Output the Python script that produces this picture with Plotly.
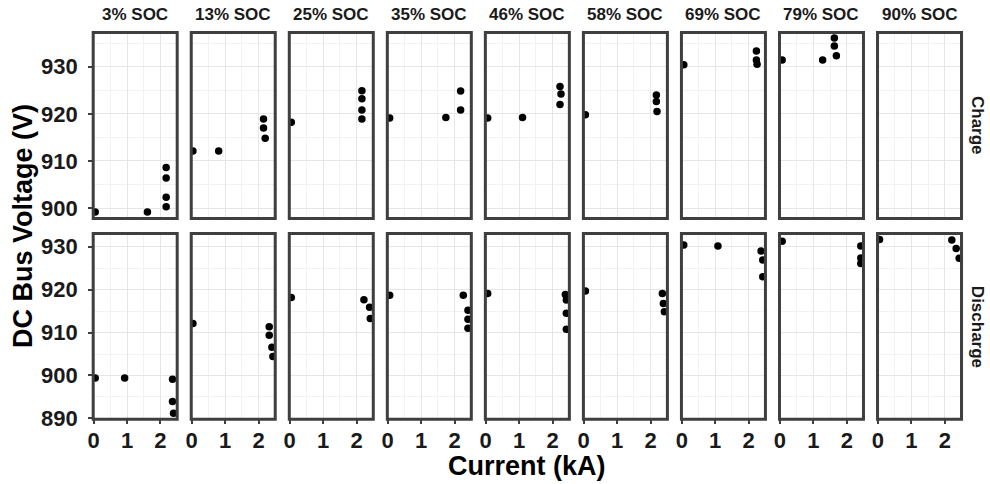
import plotly.graph_objects as go
from plotly.subplots import make_subplots

soc_labels = ["3% SOC", "13% SOC", "25% SOC", "35% SOC", "46% SOC",
              "58% SOC", "69% SOC", "79% SOC", "90% SOC"]
modes = ["Charge", "Discharge"]

# current (kA) and voltage (V) per SOC column
charge_current = [
    [0.05, 1.61, 2.17, 2.17, 2.17, 2.17],
    [0.04, 0.81, 2.15, 2.15, 2.20],
    [0.05, 2.16, 2.16, 2.16, 2.16],
    [0.06, 1.74, 2.18, 2.18],
    [0.06, 1.10, 2.22, 2.25, 2.22],
    [0.05, 2.17, 2.17, 2.19],
    [0.06, 2.23, 2.23, 2.25],
    [0.07, 1.28, 1.63, 1.63, 1.69],
    [],
]
charge_voltage = [
    [899.2, 899.2, 908.6, 906.4, 902.3, 900.3],
    [912.1, 912.1, 918.9, 917.0, 914.8],
    [918.2, 924.9, 923.2, 920.8, 918.9],
    [919.1, 919.2, 924.85, 920.8],
    [919.1, 919.2, 925.8, 924.2, 922.0],
    [919.8, 924.0, 922.6, 920.5],
    [930.4, 933.3, 931.4, 930.5],
    [931.4, 931.4, 936.1, 934.4, 932.3],
    [],
]
discharge_current = [
    [0.05, 0.93, 2.36, 2.36, 2.39],
    [0.04, 2.32, 2.32, 2.40, 2.43],
    [0.05, 2.22, 2.39, 2.41],
    [0.06, 2.26, 2.40, 2.40, 2.40],
    [0.06, 2.38, 2.41, 2.41, 2.41],
    [0.05, 2.35, 2.38, 2.41],
    [0.06, 1.08, 2.37, 2.42, 2.42],
    [0.07, 2.42, 2.42, 2.42],
    [0.05, 2.21, 2.34, 2.43],
]
discharge_voltage = [
    [899.4, 899.4, 899.1, 893.9, 891.2],
    [912.1, 911.35, 909.35, 906.55, 904.4],
    [918.2, 917.65, 915.9, 913.3],
    [918.7, 918.7, 915.2, 913.1, 911.0],
    [919.1, 918.9, 917.6, 914.5, 910.75],
    [919.7, 919.1, 916.8, 914.85],
    [930.4, 930.2, 929.0, 926.9, 923.0],
    [931.3, 930.2, 927.4, 926.1],
    [931.7, 931.6, 929.6, 927.3],
]

W, H = 990, 484
FONT = "Liberation Sans"
INK = "#1a1a1a"
BORDER = "#3f3f3f"

fig = make_subplots(rows=2, cols=9)

data = [(charge_current, charge_voltage), (discharge_current, discharge_voltage)]
for r, (cx, cy) in enumerate(data, start=1):
    for c in range(9):
        fig.add_trace(go.Scatter(x=cx[c], y=cy[c], mode="markers",
                                 marker=dict(color="black", size=7.5),
                                 showlegend=False, hoverinfo="skip"),
                      row=r, col=c + 1)

# panel geometry in pixels
col_left = [93.2 + 98.04 * k for k in range(9)]
panel_w = 84.0
row_top = [32.5, 233.5]
row_bot = [218.5, 419.2]
y_ranges = [[897.8, 937.25], [889.8, 933.1]]
y_ticks = [[900, 910, 920, 930], [890, 900, 910, 920, 930]]

tickfont = dict(family=FONT, size=22, color=INK, weight="bold")

for r in range(2):
    for c in range(9):
        fig.update_xaxes(domain=[col_left[c] / W, (col_left[c] + panel_w) / W],
                         range=[-0.01, 2.5], tickvals=[0, 1, 2],
                         minor=dict(tickvals=[0.5, 1.5, 2.5], showgrid=True,
                                    gridcolor="#f2f2f2", gridwidth=1),
                         showgrid=True, gridcolor="#e6e6e6", gridwidth=1,
                         zeroline=False, showline=False, automargin=False,
                         ticks="outside" if r == 1 else "", ticklen=4,
                         tickcolor=BORDER, tickwidth=1.5, ticklabelstandoff=-3,
                         showticklabels=(r == 1), tickfont=tickfont,
                         row=r + 1, col=c + 1)
        fig.update_yaxes(domain=[1 - row_bot[r] / H, 1 - row_top[r] / H],
                         range=y_ranges[r], tickvals=y_ticks[r],
                         minor=dict(dtick=5, tick0=895, showgrid=True,
                                    gridcolor="#f2f2f2", gridwidth=1),
                         showgrid=True, gridcolor="#e6e6e6", gridwidth=1,
                         zeroline=False, showline=False, automargin=False,
                         ticks="outside" if c == 0 else "", ticklen=4,
                         tickcolor=BORDER, tickwidth=1.5, ticklabelstandoff=6,
                         showticklabels=(c == 0), tickfont=tickfont,
                         row=r + 1, col=c + 1)

# panel borders on top of the points
for i in range(18):
    sfx = "" if i == 0 else str(i + 1)
    fig.add_shape(type="rect", xref=f"x{sfx} domain", yref=f"y{sfx} domain",
                  x0=0, x1=1, y0=0, y1=1, layer="above",
                  line=dict(color=BORDER, width=3))

strip_font = dict(family=FONT, size=17, color=INK, weight="bold")
title_font = dict(family=FONT, size=27, color="black", weight="bold")
ann = []
for c, lab in enumerate(soc_labels):
    ann.append(dict(text=lab, x=(col_left[c] + panel_w / 2) / W, y=1 - 15 / H,
                    font=strip_font))
for r, lab in enumerate(modes):
    ann.append(dict(text=lab, x=977.5 / W, y=1 - (row_top[r] + row_bot[r]) / 2 / H,
                    textangle=90, font=strip_font))
ann.append(dict(text="DC Bus Voltage (V)", x=23 / W, y=1 - 226 / H,
                textangle=-90, font=title_font))
ann.append(dict(text="Current (kA)", x=527 / W, y=1 - 466 / H, font=title_font))
for a in ann:
    a.update(xref="paper", yref="paper", showarrow=False,
             xanchor="center", yanchor="middle")

fig.update_layout(width=W, height=H, margin=dict(l=0, r=0, t=0, b=0),
                  plot_bgcolor="white", paper_bgcolor="white",
                  annotations=ann, showlegend=False)

fig.write_html("out.html", config={"displayModeBar": False},
               post_script="document.body.style.margin='0px';")
